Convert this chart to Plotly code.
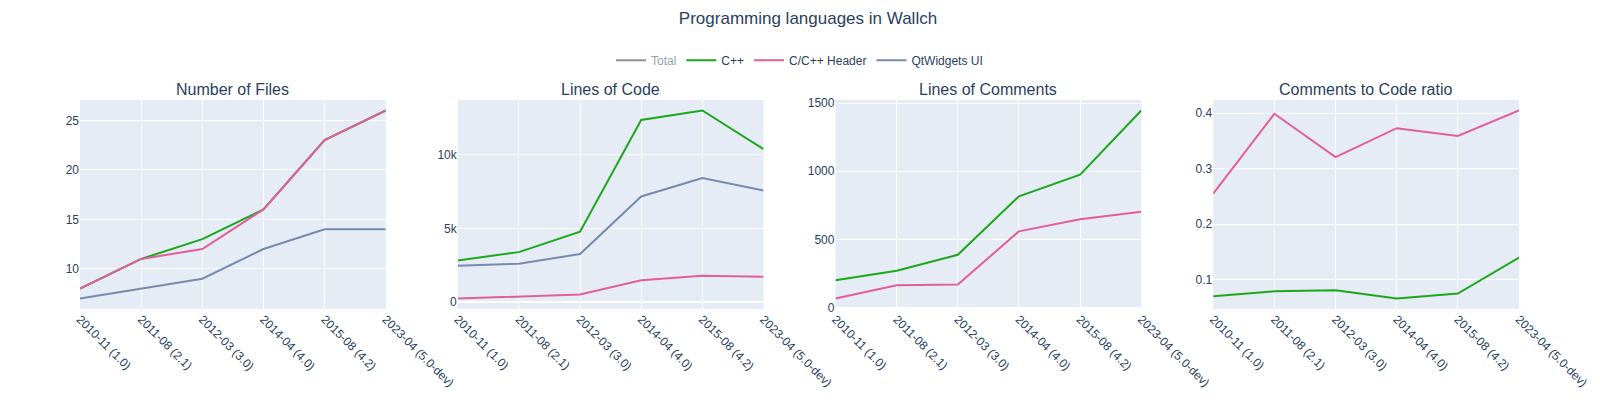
import plotly.graph_objects as go
from plotly.subplots import make_subplots

releases = ["2010-11 (1.0)", "2011-08 (2.1)", "2012-03 (3.0)", "2014-04 (4.0)", "2015-08 (4.2)", "2023-04 (5.0-dev)"]

# Number of files
files_cpp = [8, 11, 13, 16, 23, 26]
files_header = [8, 11, 12, 16, 23, 26]
files_ui = [7, 8, 9, 12, 14, 14]

# Lines of code
code_cpp = [2830, 3390, 4770, 12330, 12970, 10360]
code_header = [250, 400, 520, 1490, 1790, 1720]
code_ui = [2470, 2610, 3260, 7150, 8400, 7550]

# Lines of comments
comments_cpp = [201, 270, 387, 816, 975, 1446]
comments_header = [66, 164, 169, 559, 647, 703]

# Comments to code ratio
ratio_cpp = [0.070, 0.079, 0.081, 0.066, 0.075, 0.140]
ratio_header = [0.255, 0.399, 0.321, 0.373, 0.359, 0.405]

# Totals (hidden in legend)
files_total = [a + b + c for a, b, c in zip(files_cpp, files_header, files_ui)]
code_total = [a + b + c for a, b, c in zip(code_cpp, code_header, code_ui)]
comments_total = [a + b for a, b in zip(comments_cpp, comments_header)]
ratio_total = [c / k for c, k in zip(comments_total, code_total)]

subplot_titles = ["Number of Files", "Lines of Code", "Lines of Comments", "Comments to Code ratio"]

colors = {"Total": "#222A2A", "C++": "#1CA71C", "C/C++ Header": "#E15F99", "QtWidgets UI": "#778AAE"}

fig = make_subplots(rows=1, cols=4, subplot_titles=subplot_titles)

panels = [
    {"Total": files_total, "C++": files_cpp, "C/C++ Header": files_header, "QtWidgets UI": files_ui},
    {"Total": code_total, "C++": code_cpp, "C/C++ Header": code_header, "QtWidgets UI": code_ui},
    {"Total": comments_total, "C++": comments_cpp, "C/C++ Header": comments_header},
    {"Total": ratio_total, "C++": ratio_cpp, "C/C++ Header": ratio_header},
]

for i, panel in enumerate(panels):
    for name, vals in panel.items():
        fig.add_trace(
            go.Scatter(
                x=releases, y=vals, mode="lines", name=name,
                line=dict(color=colors[name], width=2),
                legendgroup=name, showlegend=(i == 0),
                visible="legendonly" if name == "Total" else True,
            ),
            row=1, col=i + 1,
        )

fig.update_xaxes(tickangle=45, type="category", automargin=False)
fig.update_yaxes(automargin=False)
fig.update_annotations(font_size=16)

fig.update_layout(
    template="plotly",
    width=1600, height=400,
    font=dict(family="Arial, Liberation Sans, sans-serif"),
    margin=dict(l=72, r=89, t=92, b=99, autoexpand=False),
    title=dict(text="Programming languages in Wallch", x=0.5, xanchor="center",
               y=0.974, yanchor="middle", font=dict(size=17)),
    legend=dict(orientation="h", x=0.5, xanchor="center", y=1.19, yanchor="middle"),
)

fig.write_html("out.html")
